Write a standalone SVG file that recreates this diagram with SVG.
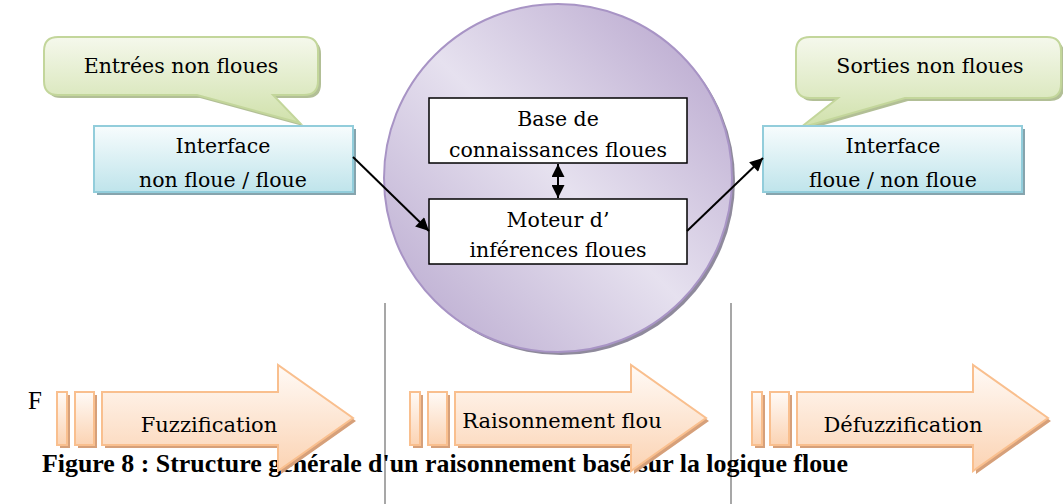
<svg xmlns="http://www.w3.org/2000/svg" width="1063" height="504" viewBox="0 0 1063 504">
<defs>
<linearGradient id="gCircle" x1="1" y1="0" x2="0" y2="1">
<stop offset="0" stop-color="#b3a0ca"/>
<stop offset="0.5" stop-color="#e6e1ef"/>
<stop offset="1" stop-color="#b5a4cc"/>
</linearGradient>
<linearGradient id="gBlue" x1="0" y1="0" x2="0" y2="1">
<stop offset="0" stop-color="#f7fcfd"/>
<stop offset="1" stop-color="#bfe4eb"/>
</linearGradient>
<linearGradient id="gGreen" x1="0" y1="0" x2="0" y2="1">
<stop offset="0" stop-color="#f5f8ec"/>
<stop offset="1" stop-color="#d0e1ab"/>
</linearGradient>
<linearGradient id="gPeach" x1="0" y1="0" x2="0" y2="1">
<stop offset="0" stop-color="#fffaf6"/>
<stop offset="1" stop-color="#fbd3b3"/>
</linearGradient>
<marker id="ah" viewBox="0 0 10 10" refX="10" refY="5" markerWidth="15" markerHeight="13" markerUnits="userSpaceOnUse" orient="auto-start-reverse">
<path d="M0,0 L10,5 L0,10 Z" fill="#000"/>
</marker>
<path id="callL" d="M58,37 H304 Q318,37 318,51 V81 Q318,95 304,95 H273 L300,123 L197,95 H58 Q44,95 44,81 V51 Q44,37 58,37 Z"/>
<path id="callR" d="M810,37 H1047 Q1061,37 1061,51 V84 Q1061,98 1047,98 H905 L800,128 L838,98 H810 Q796,98 796,84 V51 Q796,37 810,37 Z"/>
<g id="proc">
<rect x="3" y="3" width="10" height="53" fill="#d6a07a"/>
<rect x="21" y="3" width="19" height="53" fill="#d6a07a"/>
<path d="M48,3 H224 V-24 L299,29 L224,82 V56 H48 Z" fill="#d6a07a"/>
<rect x="0" y="0" width="10" height="53" class="pf"/>
<rect x="18" y="0" width="19" height="53" class="pf"/>
<path d="M45,0 H221 V-27 L296,26 L221,79 V53 H45 Z" class="pf"/>
</g>
</defs>
<style>
.t{font-family:"DejaVu Serif","Liberation Serif",serif;font-size:20.5px;fill:#000;text-anchor:middle}
.tb{font-family:"DejaVu Serif","Liberation Serif",serif;font-size:21px;fill:#000;text-anchor:middle}
.pf{fill:url(#gPeach);stroke:#f9bf8e;stroke-width:2}
.box{fill:#fff;stroke:#000;stroke-width:1.5}
.blue{fill:url(#gBlue);stroke:#92cddb;stroke-width:2}
.green{fill:url(#gGreen);stroke:#c3d69b;stroke-width:2}
.gshadow{fill:#b2bf96}
.conn{stroke:#000;stroke-width:2;fill:none}
.vline{stroke:#8a8a8a;stroke-width:1.5}
</style>
<rect width="1063" height="504" fill="#fff"/>

<g id="dividers">
<line class="vline" x1="385" y1="303" x2="385" y2="504"/>
<line class="vline" x1="731" y1="303" x2="731" y2="504"/>
</g>

<g id="moteur-circle">
<circle cx="561" cy="181" r="174" fill="#8f8a9c"/>
<circle cx="558" cy="178" r="174" fill="url(#gCircle)" stroke="#a894c5" stroke-width="2"/>
</g>

<g id="entrees">
<use href="#callL" class="gshadow" x="3" y="3"/>
<use href="#callL" class="green"/>
<text class="t" x="181" y="73">Entrées non floues</text>
</g>

<g id="sorties">
<use href="#callR" class="gshadow" x="3" y="3"/>
<use href="#callR" class="green"/>
<text class="t" x="930" y="73">Sorties non floues</text>
</g>

<g id="interface-in">
<rect x="97" y="129" width="259" height="66" fill="#86a4ad"/>
<rect x="94" y="126" width="259" height="66" class="blue"/>
<text class="t" x="223" y="153">Interface</text>
<text class="t" x="223" y="187">non floue / floue</text>
</g>

<g id="interface-out">
<rect x="766" y="129" width="259" height="66" fill="#86a4ad"/>
<rect x="763" y="126" width="259" height="66" class="blue"/>
<text class="t" x="893" y="153">Interface</text>
<text class="t" x="893" y="187">floue / non floue</text>
</g>

<g id="base">
<rect x="429" y="98" width="258" height="65" class="box"/>
<text class="t" x="558" y="126">Base de</text>
<text class="t" x="558" y="157">connaissances floues</text>
</g>

<g id="moteur">
<rect x="429" y="199" width="258" height="65" class="box"/>
<text class="t" x="558" y="227">Moteur d’</text>
<text class="t" x="558" y="257">inférences floues</text>
</g>

<g id="connectors">
<line class="conn" x1="353" y1="157" x2="429" y2="231" marker-end="url(#ah)"/>
<line class="conn" x1="687" y1="231" x2="763" y2="158" marker-end="url(#ah)"/>
<line class="conn" x1="558" y1="164" x2="558" y2="198" marker-start="url(#ah)" marker-end="url(#ah)"/>
</g>

<text id="stray-f" x="28" y="409" style="font-family:'Liberation Serif',serif;font-size:25px">F</text>

<text id="caption" x="42" y="472" textLength="806" lengthAdjust="spacingAndGlyphs" style="font-family:'Liberation Serif',serif;font-size:25px;font-weight:bold">Figure 8 : Structure générale d'un raisonnement basé sur la logique floue</text>

<g id="fuzzification">
<use href="#proc" x="57" y="392"/>
<text class="tb" x="209" y="432">Fuzzification</text>
</g>
<g id="raisonnement">
<use href="#proc" x="410" y="392"/>
<text class="tb" x="562" y="428">Raisonnement flou</text>
</g>
<g id="defuzzification">
<use href="#proc" x="752" y="392"/>
<text class="tb" x="903" y="432">Défuzzification</text>
</g>
</svg>
